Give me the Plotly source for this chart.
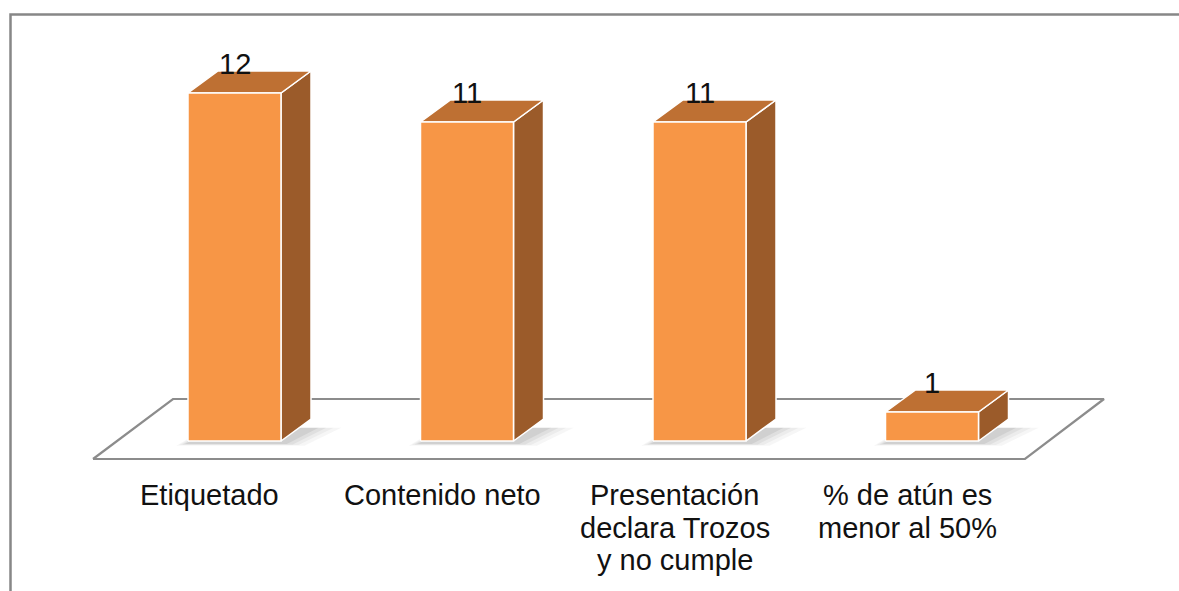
import plotly.graph_objects as go

# ---- data ----
categories = ["Etiquetado", "Contenido neto", "Presentación<br>declara Trozos<br>y no cumple",
              "% de atún es<br>menor al 50%"]
values = [12, 11, 11, 1]

# ---- style / geometry constants (pixel-calibrated) ----
W, H = 1179, 591
PX_X = 232.5          # pixels per category step
X0_PX = 234.5         # pixel of first category centre
PX_Y = 29.0           # pixels per value unit
Y0_PX = 441.0         # pixel of value 0 (front base)

def xd(px):
    return (px - X0_PX) / PX_X

def yd(py):
    return (Y0_PX - py) / PX_Y

HALF_W = 46.5 / PX_X
DX = 30 / PX_X        # depth projection
DY = 22 / PX_Y

FRONT = "#F79646"
TOP = "#BE7033"
SIDE = "#9B5B2A"
EDGE = "#FFFFFF"
FONT = dict(family="Liberation Sans, Arial, sans-serif", size=29, color="#111111")

fig = go.Figure()

def poly(xs, ys, fill, line_color=None, line_w=0, opacity=1.0):
    fig.add_trace(go.Scatter(
        x=xs + [xs[0]], y=ys + [ys[0]], mode="lines", fill="toself",
        fillcolor=fill, opacity=opacity,
        line=dict(color=line_color or fill, width=line_w),
        hoverinfo="skip", showlegend=False))

# floor
fl_x = [xd(93), xd(1025), xd(1104), xd(173)]
fl_y = [yd(459), yd(459), yd(399), yd(399)]
poly(fl_x, fl_y, "#FFFFFF", "#8C8C8C", 2.2)

# soft shadows around the bar footprints
for i, v in enumerate(values):
    for grow, op in [(0.10, 0.05), (0.075, 0.06), (0.05, 0.08), (0.025, 0.10)]:
        xl, xr = i - HALF_W - grow * 0.5, i + HALF_W + grow
        yb = -0.08 - grow * 0.8
        xs = [xl, xr, xr + DX + grow * 0.3, xl + DX]
        ys = [yb, yb, DY * 0.6, DY * 0.6]
        poly(xs, ys, "rgb(80,80,80)", opacity=op)

# bars
for i, v in enumerate(values):
    xl, xr = i - HALF_W, i + HALF_W
    # side
    poly([xr, xr + DX, xr + DX, xr], [0, DY, v + DY, v], SIDE, EDGE, 1.5)
    # top
    poly([xl, xr, xr + DX, xl + DX], [v, v, v + DY, v + DY], TOP, EDGE, 1.5)
    # front
    poly([xl, xr, xr, xl], [0, 0, v, v], FRONT, EDGE, 1.5)

# value labels
for i, v in enumerate(values):
    fig.add_annotation(x=i, y=v, text=str(v), showarrow=False, xanchor="center",
                       yanchor="middle", yshift=29, font=FONT)

# category labels (one annotation per line for exact spacing)
LINE_H = 32.5
for i, c in enumerate(categories):
    for j, line in enumerate(c.split("<br>")):
        fig.add_annotation(x=i - 0.106, y=yd(495 + j * LINE_H), text=line, showarrow=False,
                           xanchor="center", yanchor="middle", font=FONT)

# outer chart border (partially cut off in the reference)
fig.add_shape(type="rect", xref="paper", yref="paper",
              x0=10.5 / W, x1=1.05, y0=-0.05, y1=1 - 14.5 / H,
              line=dict(color="#878787", width=2.5), fillcolor="rgba(0,0,0,0)", layer="below")

fig.update_layout(
    width=W, height=H, margin=dict(l=0, r=0, t=0, b=0),
    paper_bgcolor="white", plot_bgcolor="white", showlegend=False,
    xaxis=dict(range=[xd(0), xd(W)], visible=False, fixedrange=True),
    yaxis=dict(range=[yd(H), yd(0)], visible=False, fixedrange=True),
)

fig.write_html("out.html", config={"displayModeBar": False},
               post_script="document.body.style.margin='0px';document.body.style.overflow='hidden';")
